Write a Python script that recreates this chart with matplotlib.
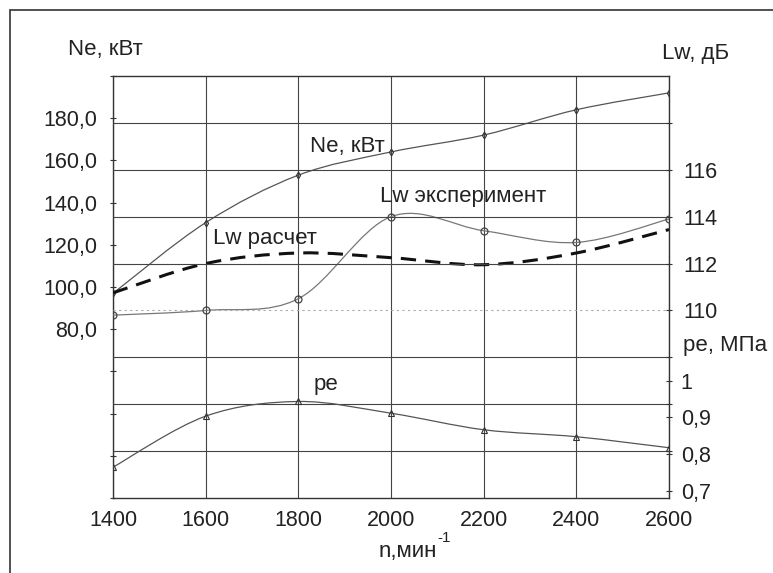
import numpy as np
import matplotlib
matplotlib.use("Agg")
import matplotlib.pyplot as plt
from matplotlib.path import Path
from matplotlib.patches import PathPatch, Rectangle

plt.rcParams['font.family'] = ['Liberation Sans', 'DejaVu Sans']

# engine speed, rpm
rpm = [1400, 1600, 1800, 2000, 2200, 2400, 2600]
# effective power, kW (left axis)
ne_kw = [97.0, 130.5, 153.0, 164.0, 172.0, 184.0, 192.0]
# sound power level, dB (right axis)
lw_exp = [109.8, 110.0, 110.5, 114.0, 113.4, 112.9, 113.9]
lw_calc = [110.75, 112.0, 112.45, 112.25, 111.95, 112.45, 113.45]
# mean effective pressure, MPa
pe_mpa = [0.764, 0.903, 0.943, 0.911, 0.866, 0.847, 0.817]

ne_ticks = [0, 20, 40, 60, 80, 100, 120, 140, 160, 180, 200]
lw_ticks = [104, 106, 108, 110, 112, 114, 116, 118]
pe_ticks = [0.7, 0.8, 0.9, 1.0]
pe_labels = ['0,7', '0,8', '0,9', '1']

W, H = 773, 573
TXT = '#222222'
FS = 15.5


def smooth_path(x, y):
    # excel-like smoothed line drawn as bezier through the data points
    pts = np.column_stack([x, y]).astype(float)
    n = len(pts)
    verts = [pts[0]]
    codes = [Path.MOVETO]
    for i in range(n - 1):
        p0 = pts[i - 1] if i > 0 else pts[i]
        p1 = pts[i]
        p2 = pts[i + 1]
        p3 = pts[i + 2] if i + 2 < n else pts[i + 1]
        verts += [p1 + (p2 - p0) / 6, p2 - (p3 - p1) / 6, p2]
        codes += [Path.CURVE4] * 3
    return Path(verts, codes)


fig = plt.figure(figsize=(W / 100, H / 100), dpi=100)
ax = fig.add_axes([113 / W, 1 - 498 / H, (669 - 113) / W, (498 - 76) / H])
ax2 = ax.twinx()
ax3 = ax.twinx()

ax.set_xlim(1400, 2600)
ax.set_ylim(0, 200)
ax2.set_ylim(102, 120)
ax3.set_ylim(0.68, 1.83)

for a in (ax2, ax3):
    for s in a.spines.values():
        s.set_visible(False)
for s in ax.spines.values():
    s.set_color('#333333')
    s.set_linewidth(1.0)

# x axis
ax.set_xticks(rpm)
ax.tick_params(axis='x', length=0, pad=9, labelsize=FS, labelcolor=TXT)
ax.grid(axis='x', color='#444444', linewidth=0.8)

# left axis (Ne)
ax.set_yticks(ne_ticks)
ax.set_yticklabels([('%.1f' % v).replace('.', ',') if 80 <= v <= 180 else '' for v in ne_ticks])
ax.tick_params(axis='y', direction='inout', length=5, width=0.8, pad=9,
               labelsize=FS, labelcolor=TXT, color='#333333')

# right axis (Lw) with horizontal grid
ax2.set_yticks(lw_ticks)
ax2.set_yticklabels([str(v) if 110 <= v <= 116 else '' for v in lw_ticks])
ax2.tick_params(axis='y', direction='inout', length=5, width=0.8, pad=8,
                labelsize=FS, labelcolor=TXT, color='#333333')
ax2.grid(axis='y', color='#444444', linewidth=0.8)
for gl, v in zip(ax2.get_ygridlines(), lw_ticks):
    if v == 110:
        gl.set_color('#aaaaaa')
        gl.set_linestyle((0, (2, 3)))

# right axis (pe)
ax3.set_yticks(pe_ticks)
ax3.set_yticklabels(pe_labels)
ax3.tick_params(axis='y', direction='inout', length=5, width=0.8, pad=6,
                labelsize=FS, labelcolor=TXT, color='#333333')

# curves
ax.add_patch(PathPatch(smooth_path(rpm, ne_kw), fill=False, edgecolor='#555555', lw=0.9))
ax.plot(rpm, ne_kw, linestyle='none', marker='d', ms=3.5, mfc='none', mec='#333333', mew=0.8)

ax2.add_patch(PathPatch(smooth_path(rpm, lw_exp), fill=False, edgecolor='#777777', lw=0.9))
ax2.plot(rpm, lw_exp, linestyle='none', marker='o', ms=5, mfc='none', mec='#444444', mew=0.9)

ax2.add_patch(PathPatch(smooth_path(rpm, lw_calc), fill=False, edgecolor='#111111', lw=2.2,
                        linestyle=(0, (5, 3))))

ax3.add_patch(PathPatch(smooth_path(rpm, pe_mpa), fill=False, edgecolor='#555555', lw=0.9))
ax3.plot(rpm, pe_mpa, linestyle='none', marker='^', ms=4, mfc='none', mec='#333333', mew=0.8)

# curve labels
ax.text(1825, 166.4, 'Ne, кВт', fontsize=16, color=TXT, va='center')
ax.text(1616, 123.2, 'Lw расчет', fontsize=16, color=TXT, va='center')
ax.text(1976, 142.8, 'Lw эксперимент', fontsize=16, color=TXT, va='center')
ax.text(1832, 53.6, 'pe', fontsize=16, color=TXT, va='center')

# axis titles
fig.text(68 / W, 1 - 50 / H, 'Ne, кВт', fontsize=16, color=TXT, va='center')
fig.text(662 / W, 1 - 53 / H, 'Lw, дБ', fontsize=16, color=TXT, va='center')
fig.text(683 / W, 1 - 346 / H, 'pe, МПа', fontsize=16, color=TXT, va='center')
fig.text(437 / W, 1 - 551 / H, 'n,мин', fontsize=16, color=TXT, va='center', ha='right')
fig.text(437 / W, 1 - 538 / H, '-1', fontsize=11, color=TXT, va='center', ha='left')

# outer frame of the scanned figure
fig.add_artist(Rectangle((10 / W, -0.1), 1.2, 1 - 10 / H + 0.1, transform=fig.transFigure,
                         fill=False, edgecolor='#333333', lw=1.2))

fig.savefig('out.png', dpi=100)
